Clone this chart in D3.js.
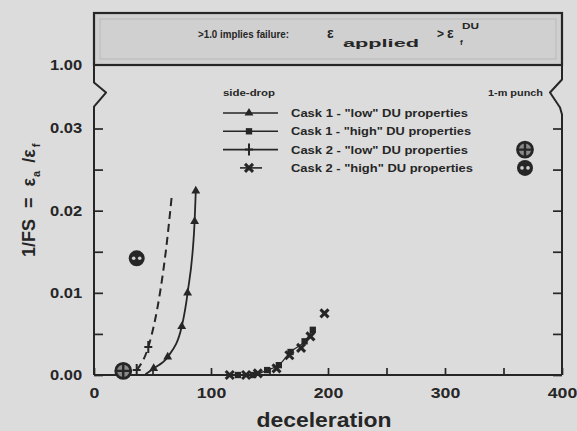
<!DOCTYPE html>
<html>
<head>
<meta charset="utf-8">
<script src="https://cdn.jsdelivr.net/npm/d3@7"></script>
<style>
body { margin: 0; background: #dcdcdc; }
svg { display: block; font-family: "Liberation Sans", Arial, sans-serif; font-weight: bold; }
</style>
</head>
<body>
<script>
WIDTH = 577
HEIGHT = 431
INK = "#262626"
STRETCH = "scale(1.18,1)"

// axes
var xTickValues = [0, 50, 100, 150, 200, 250, 300, 350, 400]
var xTickLabels = ["0", "", "100", "", "200", "", "300", "", "400"]
var yTickValues = [0, 0.005, 0.01, 0.015, 0.02, 0.025, 0.03]
var yTickLabels = ["0.00", "", "0.01", "", "0.02", "", "0.03"]
var breakTickValues = [1.0]
var breakTickLabels = ["1.00"]

// side-drop, cask 1 "low" DU properties (triangles)
var cask1LowDecel = [44, 51, 63, 75, 80, 86, 87]
var cask1LowFS = [0.0001, 0.0008, 0.0022, 0.0059, 0.0100, 0.0187, 0.0224]
// side-drop, cask 1 "high" DU properties (squares)
var cask1HighDecel = [123, 136, 148, 158, 168, 180, 187]
var cask1HighFS = [0.0000, 0.0000, 0.0006, 0.0012, 0.0028, 0.0041, 0.0055]
// side-drop, cask 2 "low" DU properties (dashed, crosses)
var cask2LowDecel = [36.5, 46.4, 56.4, 61.5, 66.4]
var cask2LowFS = [0.0006, 0.0034, 0.0100, 0.0152, 0.0217]
var cask2LowMarkDecel = [36.5, 46.4]
var cask2LowMarkFS = [0.0006, 0.0034]
// side-drop, cask 2 "high" DU properties (x)
var cask2HighDecel = [116, 130, 140, 156, 167, 177, 185, 197]
var cask2HighFS = [0.0000, 0.0000, 0.0002, 0.0008, 0.0024, 0.0033, 0.0047, 0.0075]
// 1-m punch
var punchLowDecel = [25]
var punchLowFS = [0.0005]
var punchHighDecel = [36.5]
var punchHighFS = [0.0142]

// legend
var legendLabels = ['Cask 1 - "low" DU properties', 'Cask 1 - "high" DU properties',
                    'Cask 2 - "low" DU properties', 'Cask 2 - "high" DU properties']
var legendWidths = [177, 180, 177, 182]
var legendSymbols = ["triangle", "square", "plus", "cross"]
var punchSymbols = [null, null, "circleplus", "circleeyes"]

var svg = d3.select("body").append("svg").attr("width", WIDTH).attr("height", HEIGHT)
svg.append("rect").attr("width", WIDTH).attr("height", HEIGHT).attr("fill", "#dcdcdc")

var x = d3.scaleLinear().domain([0, 400]).range([94, 562])
var y = d3.scaleLinear().domain([0, 0.03]).range([375, 128.5])
var yUp = d3.scaleLinear().domain([1.0, 1.1]).range([65, 13])

function drawMark(g, type, cx, cy)
{
  var s = g.append("g").attr("transform", "translate(" + cx + "," + cy + ")")
  if (type == "triangle")
  {
    s.append("path").attr("d", d3.symbol(d3.symbolTriangle, 34)()).attr("fill", INK)
  }
  if (type == "square")
  {
    s.append("path").attr("d", d3.symbol(d3.symbolSquare, 40)()).attr("fill", INK)
  }
  if (type == "plus")
  {
    s.append("path").attr("d", "M0,-6L0,6M-4,0L4,0").attr("stroke", INK).attr("stroke-width", 2)
  }
  if (type == "cross")
  {
    s.append("path").attr("d", "M-4,-4L4,4M-4,4L4,-4").attr("stroke", INK).attr("stroke-width", 3)
  }
  if (type == "circleplus")
  {
    s.append("circle").attr("r", 7.5).attr("fill", "#8a8a8a").attr("stroke", INK).attr("stroke-width", 2.8)
    s.append("path").attr("d", "M0,-7.5L0,7.5M-7.5,0L7.5,0").attr("stroke", INK).attr("stroke-width", 2.4)
  }
  if (type == "circleeyes")
  {
    s.append("circle").attr("r", 8).attr("fill", INK)
    s.append("circle").attr("cx", -3).attr("r", 1.8).attr("fill", "#cfcfcf")
    s.append("circle").attr("cx", 3).attr("r", 1.8).attr("fill", "#cfcfcf")
  }
}

// top band: values above 1.0
svg.append("rect").attr("x", x(0)).attr("y", yUp(1.1))
   .attr("width", x(400) - x(0)).attr("height", yUp(1.0) - yUp(1.1))
   .attr("fill", "#d0d0d0").attr("stroke", INK).attr("stroke-width", 2.2)
svg.append("rect").attr("x", x(0) + 6).attr("y", yUp(1.1) + 6)
   .attr("width", x(400) - x(0) - 12).attr("height", yUp(1.0) - yUp(1.1) - 12)
   .attr("fill", "none").attr("stroke", "#b8b8b8").attr("stroke-width", 1)

var band = svg.append("g").attr("fill", INK)
band.append("text").attr("x", 198).attr("y", 38).attr("font-size", 11.5)
    .attr("textLength", 91).attr("lengthAdjust", "spacingAndGlyphs").text(">1.0 implies failure:")
band.append("text").attr("x", 327).attr("y", 38).attr("font-size", 14).text("\u03b5")
band.append("text").attr("x", 343).attr("y", 47).attr("font-size", 11)
    .attr("textLength", 76).attr("lengthAdjust", "spacingAndGlyphs").text("applied")
band.append("text").attr("x", 437).attr("y", 38).attr("font-size", 12).text(">")
band.append("text").attr("x", 447).attr("y", 38).attr("font-size", 14).text("\u03b5")
band.append("text").attr("x", 460).attr("y", 45).attr("font-size", 8).text("f")
band.append("text").attr("x", 462).attr("y", 29).attr("font-size", 9)
    .attr("textLength", 17).attr("lengthAdjust", "spacingAndGlyphs").text("DU")

// frame with broken axis
var breakY = y(0.0317)
var frame = d3.path()
frame.moveTo(x(0), y(0)); frame.lineTo(x(0), breakY); frame.lineTo(x(0), breakY - 8)
frame.lineTo(x(0) + 12, breakY - 22); frame.lineTo(x(0), breakY - 32); frame.lineTo(x(0), yUp(1.0))
frame.moveTo(x(400), y(0)); frame.lineTo(x(400), breakY); frame.lineTo(x(400) - 2, breakY - 7)
frame.lineTo(x(400) - 12, breakY - 22); frame.lineTo(x(400), breakY - 35); frame.lineTo(x(400), yUp(1.0))
frame.moveTo(x(0), y(0)); frame.lineTo(x(400), y(0))
svg.append("path").attr("d", frame.toString()).attr("fill", "none")
   .attr("stroke", INK).attr("stroke-width", 2).attr("stroke-linejoin", "round")

function styleAxis(g, size)
{
  g.attr("font-family", null).attr("font-size", null)
  g.select(".domain").remove()
  g.selectAll("line").attr("stroke", INK).attr("stroke-width", 1.7)
  g.selectAll("text").attr("fill", INK).attr("font-size", size).attr("transform", STRETCH)
}

var gx = svg.append("g").attr("transform", "translate(0," + y(0) + ")")
  .call(d3.axisBottom(x).tickValues(xTickValues).tickSize(-7).tickPadding(12)
        .tickFormat(function(d, i) { return xTickLabels[i] }))
styleAxis(gx, 15)

var gy = svg.append("g").attr("transform", "translate(" + x(0) + ",0)")
  .call(d3.axisLeft(y).tickValues(yTickValues).tickSize(-9).tickPadding(10)
        .tickFormat(function(d, i) { return yTickLabels[i] }))
styleAxis(gy, 14)

var gyr = svg.append("g").attr("transform", "translate(" + x(400) + ",0)")
  .call(d3.axisRight(y).tickValues(yTickValues).tickSize(-9).tickFormat(""))
styleAxis(gyr, 14)

var gb = svg.append("g").attr("transform", "translate(" + x(0) + ",0)")
  .call(d3.axisLeft(yUp).tickValues(breakTickValues).tickSize(0).tickPadding(10)
        .tickFormat(function(d, i) { return breakTickLabels[i] }))
styleAxis(gb, 14)

// axis titles
svg.append("text").attr("x", 324).attr("y", 427).attr("text-anchor", "middle")
   .attr("font-size", 20).attr("fill", INK)
   .attr("textLength", 135).attr("lengthAdjust", "spacingAndGlyphs").text("deceleration")

var ylab = svg.append("text").attr("transform", "translate(35,257) rotate(-90)")
   .attr("font-size", 18).attr("fill", INK).attr("word-spacing", 6)
ylab.append("tspan").text("1/FS = \u03b5")
ylab.append("tspan").attr("dx", 1).attr("dy", 5).attr("font-size", 11).text("a")
ylab.append("tspan").attr("dx", 8).attr("dy", -5).text("/\u03b5")
ylab.append("tspan").attr("dx", 2).attr("dy", 5).attr("font-size", 11).text("f")

// curves
var line = d3.line().x(function(d) { return x(d[0]) }).y(function(d) { return y(d[1]) })
             .curve(d3.curveMonotoneX)
var cask1Low = d3.zip(cask1LowDecel, cask1LowFS)
var cask1High = d3.zip(cask1HighDecel, cask1HighFS)
var cask2Low = d3.zip(cask2LowDecel, cask2LowFS)
var cask2LowMarks = d3.zip(cask2LowMarkDecel, cask2LowMarkFS)
var cask2High = d3.zip(cask2HighDecel, cask2HighFS)

svg.append("path").attr("d", line(cask1Low)).attr("fill", "none")
   .attr("stroke", INK).attr("stroke-width", 1.8)
svg.append("path").attr("d", line(cask1High)).attr("fill", "none")
   .attr("stroke", INK).attr("stroke-width", 1.2)
svg.append("path").attr("d", line(cask2Low)).attr("fill", "none")
   .attr("stroke", INK).attr("stroke-width", 2).attr("stroke-dasharray", "8,5")

var marks = svg.append("g")
cask1Low.slice(1).forEach(function(d) { drawMark(marks, "triangle", x(d[0]), y(d[1])) })
cask1High.forEach(function(d) { drawMark(marks, "square", x(d[0]), y(d[1])) })
cask2LowMarks.forEach(function(d) { drawMark(marks, "plus", x(d[0]), y(d[1])) })
cask2High.forEach(function(d) { drawMark(marks, "cross", x(d[0]), y(d[1])) })
d3.zip(punchLowDecel, punchLowFS).forEach(function(d) { drawMark(marks, "circleplus", x(d[0]), y(d[1])) })
d3.zip(punchHighDecel, punchHighFS).forEach(function(d) { drawMark(marks, "circleeyes", x(d[0]), y(d[1])) })

// legend
var legend = svg.append("g").attr("fill", INK)
legend.append("text").attr("x", 223).attr("y", 96).attr("font-size", 9)
      .attr("textLength", 52).attr("lengthAdjust", "spacingAndGlyphs").text("side-drop")
legend.append("text").attr("x", 488).attr("y", 96).attr("font-size", 9)
      .attr("textLength", 55).attr("lengthAdjust", "spacingAndGlyphs").text("1-m punch")
for (var i = 0; i < legendLabels.length; i++)
{
  var ry = 113 + i * 18.3
  var x0 = i == 3 ? 240 : 223
  var x1 = i == 3 ? 262 : 278
  legend.append("line").attr("x1", x0).attr("x2", x1).attr("y1", ry).attr("y2", ry)
        .attr("stroke", INK).attr("stroke-width", 1.6)
  drawMark(legend, legendSymbols[i], 249, ry)
  legend.append("text").attr("x", 291).attr("y", ry + 4).attr("font-size", 11)
        .attr("textLength", legendWidths[i]).attr("lengthAdjust", "spacingAndGlyphs")
        .text(legendLabels[i])
  if (punchSymbols[i])
  {
    drawMark(legend, punchSymbols[i], 525, ry)
  }
}
</script>
</body>
</html>
